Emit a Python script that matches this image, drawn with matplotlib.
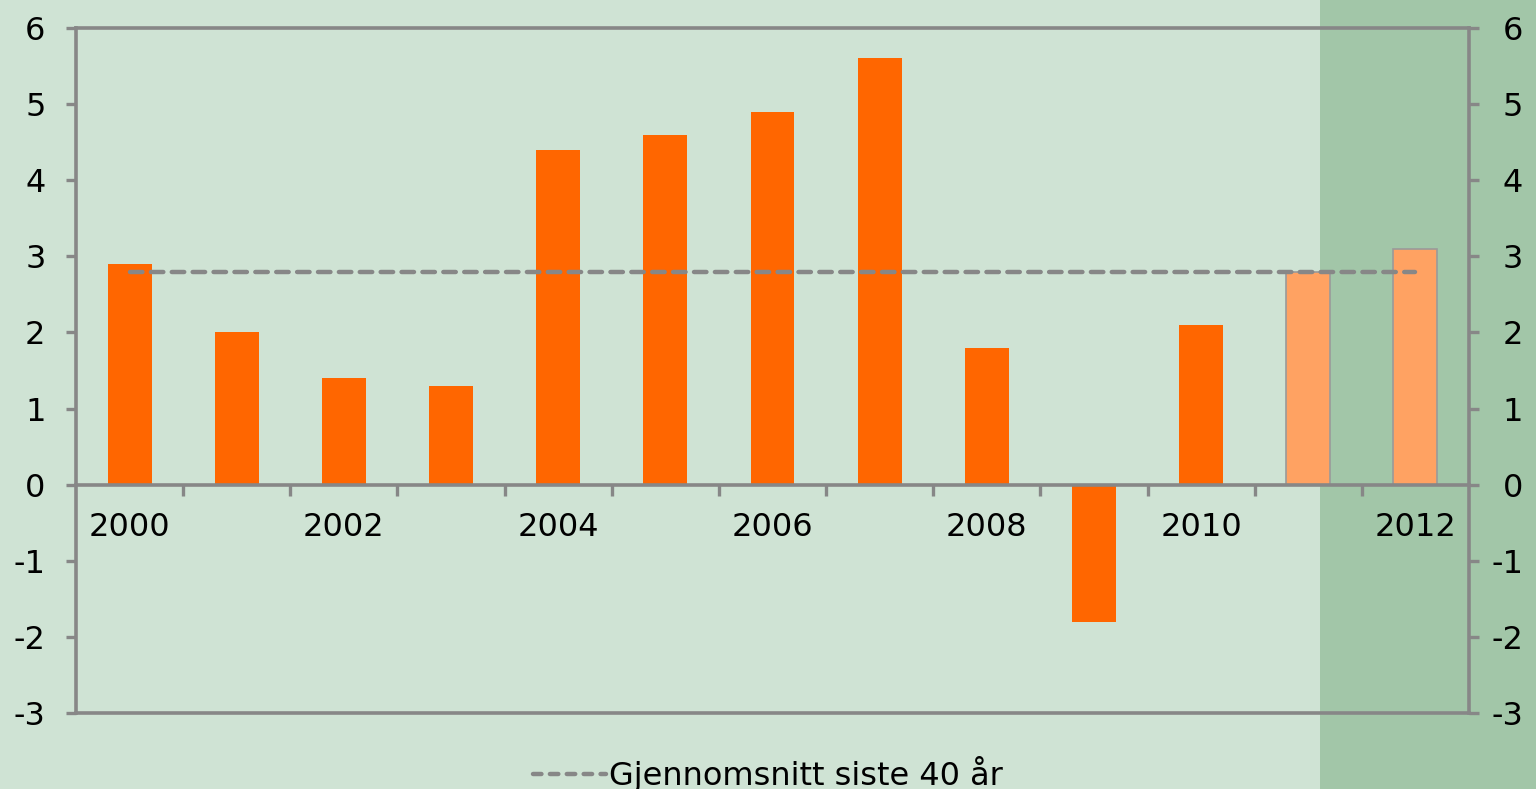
import matplotlib
matplotlib.use("Agg")
import matplotlib.pyplot as plt
import matplotlib.transforms as mtransforms
import numpy as np
from matplotlib.patches import Rectangle
from matplotlib.lines import Line2D

years = list(range(2000, 2013))
values = [2.9, 2.0, 1.4, 1.3, 4.4, 4.6, 4.9, 5.6, 1.8, -1.8, 2.1, 2.8, 3.1]
forecast = [False] * 11 + [True, True]
avg_40y = 2.8
legend_label = "Gjennomsnitt siste 40 år"
yticks = list(range(-3, 7))

bg = "#CFE3D4"
band = "#A2C6A8"
orange = "#FF6600"
orange_light = "#FFA262"
grey = "#878787"

plt.rcParams['font.family'] = ['DejaVu Sans']
fig = plt.figure(figsize=(15.36, 7.89), dpi=100, facecolor=bg)
fig.add_artist(Rectangle((1320 / 1536, 0), 1 - 1320 / 1536, 1, transform=fig.transFigure,
                         facecolor=band, edgecolor='none', zorder=-5))
ax = fig.add_axes([76 / 1536, 1 - 713 / 789, (1469 - 76) / 1536, (713 - 28) / 789])
ax.set_facecolor('none')

x = np.arange(len(years))
for xi, v, f in zip(x, values, forecast):
    if f:
        ax.bar(xi, v, width=0.41, color=orange_light, edgecolor="#9a9a9a", linewidth=1.2, zorder=2)
    else:
        ax.bar(xi, v, width=0.41, color=orange, edgecolor='none', zorder=2)

ax.plot([x[0], x[-1]], [avg_40y, avg_40y], color=grey, lw=3.2, dashes=(2.8, 1.9),
        dash_capstyle='round', zorder=3)

ax.set_xlim(-0.5, len(years) - 0.5)
ax.set_ylim(-3, 6)

for s in ['left', 'right', 'top', 'bottom']:
    ax.spines[s].set_color(grey)
    ax.spines[s].set_linewidth(2.6)
ax.spines['bottom'].set_position(('data', 0))
ax.axhline(-3, color=grey, lw=2.6, clip_on=False, zorder=1)

ax.set_yticks(yticks)
ax.set_yticklabels([str(t) for t in yticks])
ax.tick_params(axis='y', which='both', left=True, right=True, labelleft=True, labelright=True,
               direction='out', length=7, width=2.4, color=grey, labelsize=23, pad=15)
for t in ax.yaxis.get_major_ticks():
    t.label2.set_horizontalalignment('right')
    t.label2.set_transform(t.label2.get_transform() +
                           mtransforms.ScaledTranslation(0.235, 0, fig.dpi_scale_trans))

ax.set_xticks(x)
ax.set_xticklabels([str(y) if y % 2 == 0 else "" for y in years])
ax.set_xticks(np.arange(0.5, len(years) - 0.5, 1), minor=True)
ax.tick_params(axis='x', which='major', length=0, labelsize=23, pad=20)
ax.tick_params(axis='x', which='minor', direction='out', length=8, width=2.4, color=grey)

handle = Line2D([0], [0], color=grey, lw=3.2, dashes=(1.9, 1.9), dash_capstyle='round')
fig.legend([handle], [legend_label], loc='lower center', bbox_to_anchor=(0.5, -0.04),
           frameon=False, fontsize=23, handlelength=2.3, handletextpad=0.1)

fig.savefig("out.png", dpi=100, facecolor=bg)
